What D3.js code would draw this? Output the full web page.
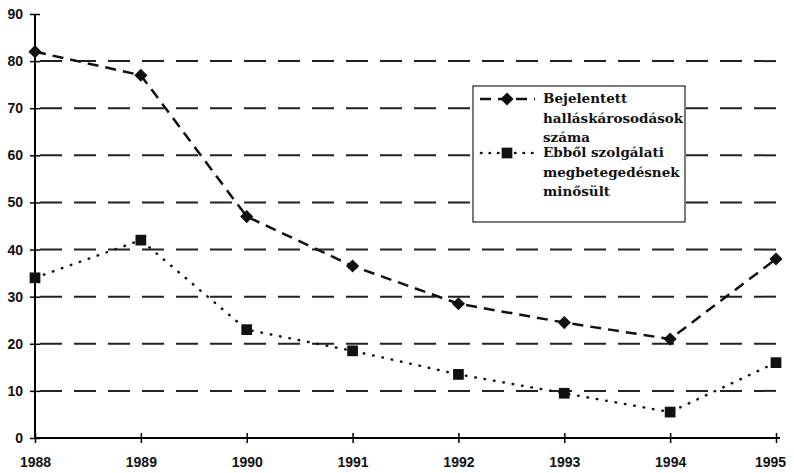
<!DOCTYPE html>
<html>
<head>
<meta charset="utf-8">
<script src="https://cdn.jsdelivr.net/npm/d3@7"></script>
<style>
  body { margin: 0; background: #fff; }
  svg { display: block; }
</style>
</head>
<body>
<div id="chart"></div>
<script>
// years on the x axis
var years = [1988, 1989, 1990, 1991, 1992, 1993, 1994, 1995];
// reported hearing damage cases
var bejelentett = [82, 77, 47, 36.5, 28.5, 24.5, 21, 38];
// of which qualified as occupational disease
var szolgalati = [34, 42, 23, 18.5, 13.5, 9.5, 5.5, 16];
var yTicks = [0, 10, 20, 30, 40, 50, 60, 70, 80, 90];
var legendLines1 = ["Bejelentett", "halláskárosodások", "száma"];
var legendLines2 = ["Ebből szolgálati", "megbetegedésnek", "minősült"];

var width = 794, height = 473;
var margin = {top: 14, right: 17, bottom: 35, left: 35};

var svg = d3.select("#chart").append("svg")
  .attr("width", width)
  .attr("height", height);

var x = d3.scaleLinear()
  .domain([1988, 1995])
  .range([margin.left, width - margin.right - 1]);

var y = d3.scaleLinear()
  .domain([0, 90])
  .range([height - margin.bottom, margin.top]);

//gridlines
svg.append("g")
  .selectAll("line")
  .data(yTicks.filter(function(d) { return d > 0 && d < 90; }))
  .enter().append("line")
  .attr("x1", x(1988) + 5)
  .attr("x2", x(1995) + 4)
  .attr("y1", function(d) { return y(d); })
  .attr("y2", function(d) { return y(d); })
  .attr("stroke", "#222")
  .attr("stroke-width", 2)
  .attr("stroke-dasharray", "22,12");

//axes
var yAxis = d3.axisLeft(y)
  .tickValues(yTicks)
  .tickSize(5)
  .tickPadding(7)
  .tickFormat(d3.format("d"));

var gy = svg.append("g")
  .attr("transform", "translate(" + x(1988) + ",0)")
  .call(yAxis);
gy.select(".domain").attr("stroke-width", 2).attr("d", "M0," + y(0) + "V" + y(90));
gy.selectAll(".tick line").attr("x2", 5).attr("x1", -5).attr("stroke-width", 1.5);
gy.selectAll("text")
  .style("font-family", "'Liberation Sans', Arial, sans-serif")
  .style("font-weight", "bold")
  .style("font-size", "14px")
  .attr("fill", "#111");

var xAxis = d3.axisBottom(x)
  .tickValues(years)
  .tickSize(5)
  .tickPadding(14)
  .tickFormat(d3.format("d"));

var gx = svg.append("g")
  .attr("transform", "translate(0," + y(0) + ")")
  .call(xAxis);
gx.select(".domain").attr("stroke-width", 2).attr("d", "M" + x(1988) + ",0H" + (x(1995) + 4));
gx.selectAll(".tick line").attr("y1", -5).attr("y2", 5).attr("stroke-width", 1.5);
gx.selectAll("text")
  .style("font-family", "'Liberation Sans', Arial, sans-serif")
  .style("font-weight", "bold")
  .style("font-size", "14px")
  .attr("fill", "#111")
  .attr("dx", function(d) { return d === 1995 ? -6 : 0; });

//series
var line = d3.line()
  .x(function(d, i) { return x(years[i]); })
  .y(function(d) { return y(d); });

svg.append("path")
  .datum(bejelentett)
  .attr("d", line)
  .attr("fill", "none")
  .attr("stroke", "#111")
  .attr("stroke-width", 2.5)
  .attr("stroke-dasharray", "11,7");

svg.append("path")
  .datum(szolgalati)
  .attr("d", line)
  .attr("fill", "none")
  .attr("stroke", "#111")
  .attr("stroke-width", 2.5)
  .attr("stroke-linecap", "round")
  .attr("stroke-dasharray", "0.5,9");

var diamond = d3.symbol().type(d3.symbolDiamond2).size(110);
var square = d3.symbol().type(d3.symbolSquare).size(115);

svg.append("g").selectAll("path")
  .data(bejelentett)
  .enter().append("path")
  .attr("d", diamond)
  .attr("transform", function(d, i) { return "translate(" + x(years[i]) + "," + y(d) + ")"; })
  .attr("fill", "#111");

svg.append("g").selectAll("path")
  .data(szolgalati)
  .enter().append("path")
  .attr("d", square)
  .attr("transform", function(d, i) { return "translate(" + x(years[i]) + "," + y(d) + ")"; })
  .attr("fill", "#111");

//legend
var lg = svg.append("g").attr("transform", "translate(473,86)");
lg.append("rect")
  .attr("width", 212)
  .attr("height", 136)
  .attr("fill", "#fff")
  .attr("stroke", "#222")
  .attr("stroke-width", 1.2);

lg.append("line")
  .attr("x1", 7).attr("x2", 62).attr("y1", 13).attr("y2", 13)
  .attr("stroke", "#111").attr("stroke-width", 2.5)
  .attr("stroke-dasharray", "11,7");
lg.append("path")
  .attr("d", diamond)
  .attr("transform", "translate(34,13)")
  .attr("fill", "#111");

lg.append("line")
  .attr("x1", 8).attr("x2", 62).attr("y1", 67).attr("y2", 67)
  .attr("stroke", "#111").attr("stroke-width", 2.5)
  .attr("stroke-linecap", "round")
  .attr("stroke-dasharray", "0.5,8");
lg.append("path")
  .attr("d", square)
  .attr("transform", "translate(34,67)")
  .attr("fill", "#111");

function legendText(lines, y0) {
  lg.append("g").selectAll("text")
    .data(lines)
    .enter().append("text")
    .attr("x", 70)
    .attr("y", function(d, i) { return y0 + i * 19.5; })
    .text(function(d) { return d; })
    .style("font-family", "'DejaVu Serif', serif")
    .style("font-weight", "bold")
    .style("font-size", "13.5px")
    .attr("fill", "#111");
}
legendText(legendLines1, 17);
legendText(legendLines2, 71);
</script>
</body>
</html>
